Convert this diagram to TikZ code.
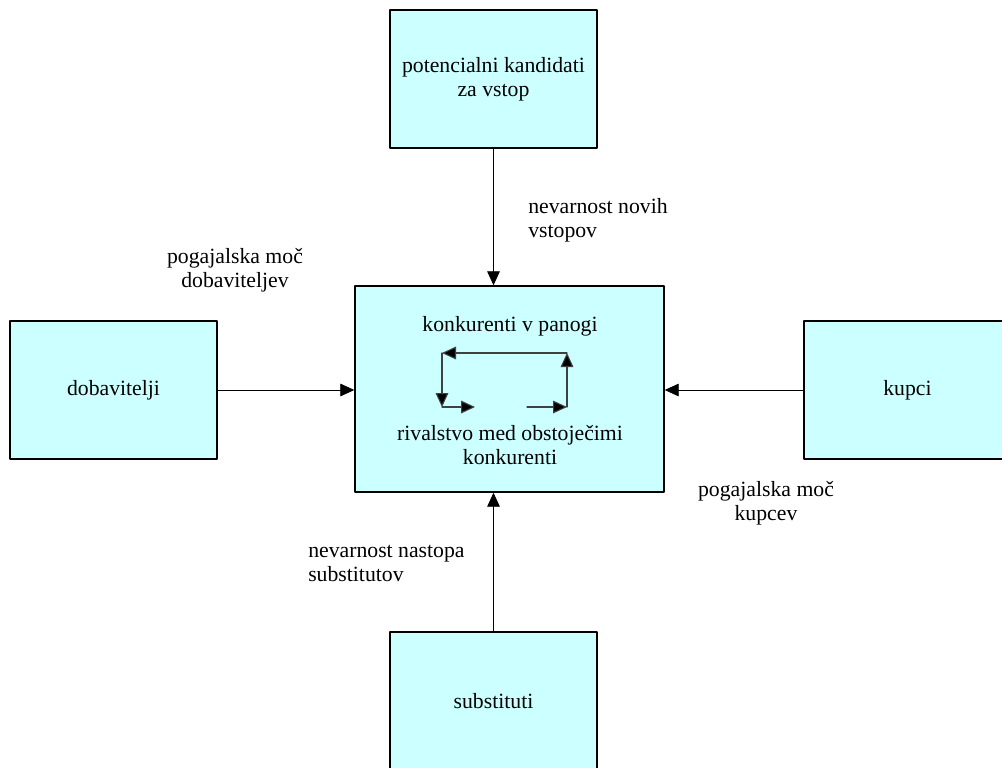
\documentclass[tikz,border=0pt]{standalone}
\usepackage{fontspec}
\setmainfont{Liberation Serif}
\usetikzlibrary{arrows.meta}

\definecolor{boxfill}{RGB}{204,255,255}
\definecolor{cyclegray}{RGB}{64,64,64}

\begin{document}
\begin{tikzpicture}[x=.75pt,y=-.75pt,line cap=round,line join=round,
    font=\fontsize{16.3}{18}\selectfont,
    force/.style={draw=black,line width=1.1pt,fill=boxfill,inner sep=0pt,
      minimum width=155.25pt,minimum height=103.5pt,align=center},
    flow/.style={line width=.6pt,-{Triangle[length=10.5pt,width=9.5pt]}},
    cyc/.style={draw=cyclegray,line width=.8pt,-{Triangle[length=10.5pt,width=9.5pt,fill=black]}}]
    \clip (0,0) rectangle (1002,767);
    \fill[white] (0,0) rectangle (1002,767);
    % forces
    \node[force,minimum width=231.75pt,minimum height=154.5pt] (rival) at (509.5,389) {};
    \node[force] (entr) at (493.5,79) {potencialni kandidati\\za vstop};
    \node[force] (supp) at (113.5,390) {dobavitelji};
    \node[force] (buy) at (907.5,390) {kupci};
    \node[force] (subs) at (493.5,701) {substituti};
    \node (rtop) at (510,326) {konkurenti v panogi};
    \node[align=center] (rbot) at (510,445) {rivalstvo med obstoječimi\\konkurenti};
    % cycle inside
    \coordinate (c1) at (442,353);
    \coordinate (c2) at (567,353);
    \coordinate (c3) at (442,407);
    \coordinate (c4) at (567,407);
    \coordinate (c5) at (475,407);
    \coordinate (c6) at (527,407);
    \draw[cyc] (c2) -- (c1);
    \draw[cyc] (c1) -- (c3);
    \draw[cyc] (c3) -- (c5);
    \draw[cyc] (c6) -- (c4);
    \draw[cyc] (c4) -- (c2);
    % arrows
    \draw[flow] (entr.south) -- (entr.south |- rival.north);
    \draw[flow] (supp.east) -- (supp.east -| rival.west);
    \draw[flow] (buy.west) -- (buy.west -| rival.east);
    \draw[flow] (subs.north) -- (subs.north |- rival.south);
    % labels
    \node[anchor=west,align=left,inner sep=0pt] (lentr) at (528,220) {nevarnost novih\\vstopov};
    \node[align=center,inner sep=0pt] (lsupp) at (235,270) {pogajalska moč\\dobaviteljev};
    \node[anchor=west,align=left,inner sep=0pt] (lsubs) at (308,563) {nevarnost nastopa\\substitutov};
    \node[align=center,inner sep=0pt] (lbuy) at (766,503) {pogajalska moč\\kupcev};
\end{tikzpicture}
\end{document}
